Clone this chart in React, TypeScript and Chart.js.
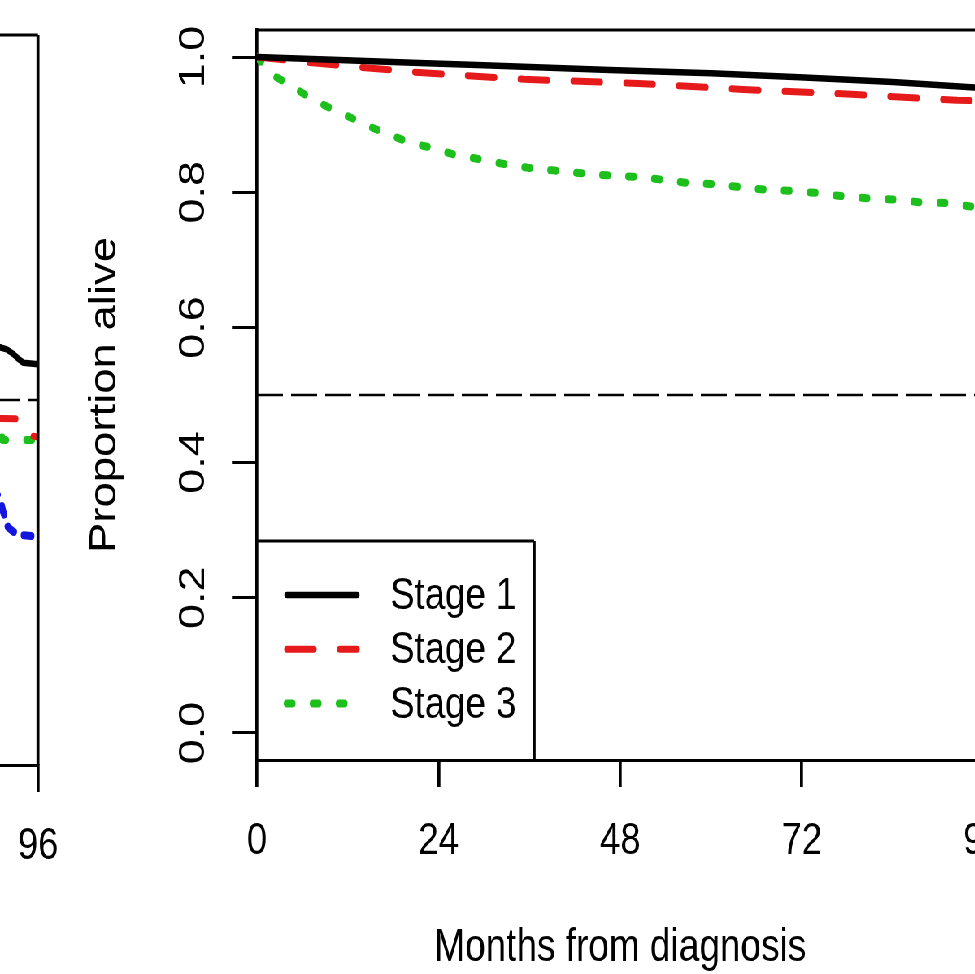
import { useEffect, useRef } from 'react';
import { Chart, registerables } from 'chart.js';

Chart.register(...registerables);
Chart.defaults.font.family = "'Liberation Sans', Arial, Helvetica, sans-serif";
Chart.defaults.color = '#000';

// ---------------- data ----------------
const xTickValues = [0, 24, 48, 72, 96];
const yTickValues = [0, 0.2, 0.4, 0.6, 0.8, 1.0];
const legendLabels = ['Stage 1', 'Stage 2', 'Stage 3'];
const xAxisTitle = 'Months from diagnosis';
const yAxisTitle = 'Proportion alive';

// right panel (fully shown part)
const stage1Months = [0, 10, 21.5, 30, 46.6, 60, 71.7, 84, 94.8, 96];
const stage1Surv = [1.0, 0.996, 0.991, 0.988, 0.981, 0.976, 0.97, 0.963, 0.955, 0.954];
const stage2Months = [0, 7.7, 21.5, 35.3, 50.4, 64.2, 78.6, 92.5, 96];
const stage2Surv = [1.0, 0.991, 0.977, 0.967, 0.961, 0.952, 0.945, 0.936, 0.935];
const stage3Months = [0, 2.1, 4.3, 6.7, 9.2, 12.1, 14.7, 17.5, 20.3, 23.4, 26.2, 29.4, 32.5, 35.9, 39.4, 42.8, 46.3, 49.8, 53.2, 56.7, 60.1, 63.5, 67, 70.5, 73.9, 77.4, 80.8, 84.3, 87.7, 91.2, 94.3, 96];
const stage3Surv = [1.0, 0.973, 0.959, 0.942, 0.927, 0.912, 0.898, 0.885, 0.873, 0.865, 0.855, 0.849, 0.842, 0.836, 0.832, 0.828, 0.825, 0.823, 0.819, 0.814, 0.812, 0.808, 0.804, 0.802, 0.799, 0.794, 0.791, 0.789, 0.785, 0.784, 0.779, 0.777];
const medianMonthsRight = [0, 96];
const medianSurv = [0.5, 0.5];

// left panel (only its right-hand tail is visible)
const leftGroupLabels = ['Group 1', 'Group 2', 'Group 3', 'Group 4'];
const leftG1Months = [89.5, 90.98, 91.86, 92.74, 93.4, 94.06, 96];
const leftG1Surv = [0.583, 0.578, 0.575, 0.568, 0.561, 0.555, 0.553];
const leftG2Months = [89.5, 93.5, 94.6, 95.2, 96];
const leftG2Surv = [0.473, 0.472, 0.468, 0.447, 0.445];
const leftG3Months = [89.5, 90.9, 91.3, 96];
const leftG3Surv = [0.474, 0.472, 0.441, 0.441];
const leftG4Months = [90, 90.98, 91.34, 92.04, 92.74, 94.02, 96];
const leftG4Surv = [0.37, 0.355, 0.337, 0.312, 0.305, 0.3, 0.298];
const medianMonthsLeft = [0, 96];

// ---------------- layout (logical px; stage is compressed horizontally) ----------------
const S = 1.23;
const VIEW_W = 975;
const VIEW_H = 974;
const CANVAS_TOP = -50;
const CANVAS_H = 1050;
const PX_PER_MONTH = 9.31;

const R_AREA_LEFT = 316;
const R_XMAX = 96;
const R_AREA_RIGHT = R_AREA_LEFT + R_XMAX * PX_PER_MONTH;
const R_W = 1300;
const R_AREA_TOP = 80;
const R_AREA_BOTTOM = 810;

const L_XMAX = 96;
const L_AREA_RIGHT = 46.7;
const L_AREA_LEFT = L_AREA_RIGHT - L_XMAX * PX_PER_MONTH;
const L_X0 = Math.floor(L_AREA_LEFT - 60);
const L_W = Math.ceil(L_AREA_RIGHT + 60 - L_X0);
const L_AREA_TOP = 85;
const L_AREA_BOTTOM = 815;

const RED = '#e61a1a';
const GREEN = '#1dbf1d';
const BLUE = '#1515e0';

const TICK_FONT = 45;
const TITLE_FONT = 45.5;

const pts = (xs: number[], ys: number[]) => xs.map((x, i) => ({ x, y: ys[i] }));

const lineBase = { pointRadius: 0, tension: 0, fill: false, borderJoinStyle: 'round' as const };

const framePlugin = {
  id: 'frame',
  afterDatasetsDraw(chart: any, _a: any, opts: any) {
    const { ctx, chartArea: a } = chart;
    ctx.save();
    ctx.strokeStyle = '#000';
    ctx.setLineDash([]);
    ctx.lineWidth = 3;
    ctx.beginPath();
    ctx.moveTo(a.left, a.top);
    ctx.lineTo(a.right, a.top);
    ctx.stroke();
    ctx.lineWidth = 3.7;
    ctx.beginPath();
    ctx.moveTo(a.right, a.top);
    ctx.lineTo(a.right, a.bottom);
    if (opts && opts.left) {
      ctx.moveTo(a.left, a.top);
      ctx.lineTo(a.left, a.bottom);
    }
    ctx.stroke();
    ctx.restore();
  },
};

const LEG_RIGHT = 657;
const LEG_TOP = 591;
const LEG_LINE_X0 = 353;
const LEG_LINE_X1 = 439;
const LEG_TEXT_X = 480;
const LEG_LINE_Y0 = 645;
const LEG_TEXT_Y0 = 646.5;
const LEG_STEP = 54.3;

const boxLegendPlugin = {
  id: 'boxLegend',
  afterDatasetsDraw(chart: any) {
    const { ctx, chartArea: a } = chart;
    ctx.save();
    ctx.strokeStyle = '#000';
    ctx.setLineDash([]);
    ctx.lineWidth = 3;
    ctx.beginPath();
    ctx.moveTo(a.left, LEG_TOP);
    ctx.lineTo(LEG_RIGHT, LEG_TOP);
    ctx.stroke();
    ctx.lineWidth = 3.7;
    ctx.beginPath();
    ctx.moveTo(LEG_RIGHT, LEG_TOP);
    ctx.lineTo(LEG_RIGHT, a.bottom);
    ctx.stroke();
    let row = 0;
    chart.data.datasets.forEach((ds: any) => {
      if (!legendLabels.includes(ds.label)) return;
      const ly = LEG_LINE_Y0 + row * LEG_STEP;
      const ty = LEG_TEXT_Y0 + row * LEG_STEP;
      ctx.save();
      ctx.strokeStyle = ds.borderColor;
      ctx.lineWidth = ds.borderWidth;
      ctx.lineCap = ds.borderCapStyle || 'butt';
      ctx.setLineDash(ds.borderDash || []);
      ctx.beginPath();
      ctx.moveTo(LEG_LINE_X0, ly);
      ctx.lineTo(LEG_LINE_X1, ly);
      ctx.stroke();
      ctx.restore();
      ctx.fillStyle = '#000';
      ctx.font = "45px 'Liberation Sans', Arial, sans-serif";
      ctx.textAlign = 'left';
      ctx.textBaseline = 'middle';
      ctx.fillText(ds.label, LEG_TEXT_X, ty);
      row++;
    });
    ctx.restore();
  },
};

function xScale(max: number, axisHeight: number) {
  return {
    type: 'linear' as const,
    min: 0,
    max,
    afterBuildTicks: (s: any) => {
      s.ticks = xTickValues.map((v) => ({ value: v }));
    },
    afterFit: (s: any) => {
      s.height = axisHeight;
    },
    grid: { display: true, drawOnChartArea: false, drawTicks: true, tickLength: 27, color: '#000', lineWidth: 3.7 },
    border: { display: true, color: '#000', width: 3 },
    ticks: {
      color: '#000',
      font: { size: TICK_FONT },
      padding: 27.7,
      maxRotation: 0,
      minRotation: 0,
      autoSkip: false,
      callback: (v: any) => String(v),
    },
    title: {
      display: true,
      text: xAxisTitle,
      color: '#000',
      font: { size: TITLE_FONT },
      padding: { top: 0, bottom: 24 },
    },
  };
}

function yScale(axisWidth: number, show: boolean) {
  return {
    type: 'linear' as const,
    min: -0.04,
    max: 1.04,
    display: show,
    afterBuildTicks: (s: any) => {
      s.ticks = yTickValues.map((v) => ({ value: v }));
    },
    afterFit: (s: any) => {
      s.width = axisWidth;
    },
    grid: { display: true, drawOnChartArea: false, drawTicks: true, tickLength: 30.75, color: '#000', lineWidth: 3 },
    border: { display: true, color: '#000', width: 3.7 },
    ticks: {
      color: '#000',
      font: { size: TICK_FONT },
      padding: 15,
      minRotation: 90,
      maxRotation: 90,
      crossAlign: 'center' as const,
      autoSkip: false,
      callback: (v: any) => Number(v).toFixed(1),
    },
    title: {
      display: true,
      text: yAxisTitle,
      color: '#000',
      font: { size: TITLE_FONT },
      padding: { top: 102, bottom: 0 },
    },
  };
}

function rightConfig(): any {
  return {
    type: 'line',
    data: {
      datasets: [
        { ...lineBase, label: 'median', data: pts(medianMonthsRight, medianSurv), borderColor: '#000', borderWidth: 2.5, borderDash: [32, 10] },
        { ...lineBase, label: legendLabels[0], data: pts(stage1Months, stage1Surv), borderColor: '#000', borderWidth: 6.5, borderCapStyle: 'round' },
        { ...lineBase, label: legendLabels[1], data: pts(stage2Months, stage2Surv), borderColor: RED, borderWidth: 7, borderDash: [33, 32], borderCapStyle: 'round' },
        { ...lineBase, label: legendLabels[2], data: pts(stage3Months, stage3Surv), borderColor: GREEN, borderWidth: 8, borderDash: [6.5, 25.5], borderCapStyle: 'round' },
      ],
    },
    options: {
      animation: false,
      responsive: false,
      maintainAspectRatio: false,
      devicePixelRatio: 1,
      events: [],
      layout: { padding: { left: 0, top: R_AREA_TOP, right: R_W - R_AREA_RIGHT, bottom: 0 } },
      scales: { x: xScale(R_XMAX, CANVAS_H - R_AREA_BOTTOM), y: yScale(R_AREA_LEFT, true) },
      plugins: { legend: { display: false }, tooltip: { enabled: false }, frame: { left: false } },
    },
    plugins: [framePlugin, boxLegendPlugin],
  };
}

function leftConfig(): any {
  return {
    type: 'line',
    data: {
      datasets: [
        { ...lineBase, label: 'median', data: pts(medianMonthsLeft, medianSurv), borderColor: '#000', borderWidth: 2.5, borderDash: [32, 10] },
        { ...lineBase, label: leftGroupLabels[0], data: pts(leftG1Months, leftG1Surv), borderColor: '#000', borderWidth: 6.5, borderCapStyle: 'round' },
        { ...lineBase, label: leftGroupLabels[1], data: pts(leftG2Months, leftG2Surv), borderColor: RED, borderWidth: 7, borderDash: [33, 32], borderCapStyle: 'round' },
        { ...lineBase, label: leftGroupLabels[2], data: pts(leftG3Months, leftG3Surv), borderColor: GREEN, borderWidth: 8, borderDash: [6.5, 25.5], borderCapStyle: 'round' },
        { ...lineBase, label: leftGroupLabels[3], data: pts(leftG4Months, leftG4Surv), borderColor: BLUE, borderWidth: 8, borderDash: [9, 13], borderCapStyle: 'round' },
      ],
    },
    options: {
      animation: false,
      responsive: false,
      maintainAspectRatio: false,
      devicePixelRatio: 1,
      events: [],
      layout: {
        padding: {
          left: L_AREA_LEFT - L_X0,
          top: L_AREA_TOP,
          right: L_X0 + L_W - L_AREA_RIGHT,
          bottom: 0,
        },
      },
      scales: { x: xScale(L_XMAX, CANVAS_H - L_AREA_BOTTOM), y: yScale(0, false) },
      plugins: { legend: { display: false }, tooltip: { enabled: false }, frame: { left: true } },
    },
    plugins: [framePlugin],
  };
}

export default function App() {
  const leftRef = useRef<HTMLCanvasElement>(null);
  const rightRef = useRef<HTMLCanvasElement>(null);

  useEffect(() => {
    const charts: Chart[] = [];
    if (leftRef.current) charts.push(new Chart(leftRef.current, leftConfig()));
    if (rightRef.current) charts.push(new Chart(rightRef.current, rightConfig()));
    return () => charts.forEach((c) => c.destroy());
  }, []);

  return (
    <div
      style={{
        position: 'fixed',
        left: 0,
        top: 0,
        width: VIEW_W,
        height: VIEW_H,
        overflow: 'hidden',
        background: '#fff',
      }}
    >
      <div
        style={{
          position: 'absolute',
          left: 0,
          top: 0,
          width: VIEW_W * S,
          height: VIEW_H,
          transform: `scaleX(${1 / S})`,
          transformOrigin: '0 0',
        }}
      >
        <canvas
          ref={leftRef}
          width={L_W}
          height={CANVAS_H}
          style={{ position: 'absolute', left: L_X0, top: CANVAS_TOP, width: L_W, height: CANVAS_H, display: 'block' }}
        />
        <canvas
          ref={rightRef}
          width={R_W}
          height={CANVAS_H}
          style={{ position: 'absolute', left: 0, top: CANVAS_TOP, width: R_W, height: CANVAS_H, display: 'block' }}
        />
      </div>
    </div>
  );
}
